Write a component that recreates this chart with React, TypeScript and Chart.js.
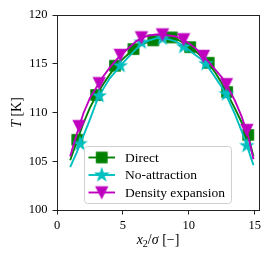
import React, { useEffect, useRef } from "react";
import { Chart, registerables } from "chart.js";

Chart.register(...registerables);

// ---------- data ----------
const lineX = [1.0, 1.5, 2.0, 2.5, 3.0, 3.5, 4.0, 4.5, 5.0, 5.5, 6.0, 6.5, 7.0, 7.5, 8.0, 8.5, 9.0, 9.5, 10.0, 10.5, 11.0, 11.5, 12.0, 12.5, 13.0, 13.5, 14.0, 14.5, 14.9];
const directLine = [105.1, 107.0, 108.9, 110.5, 111.8, 112.9, 113.9, 114.8, 115.5, 116.1, 116.6, 117.0, 117.3, 117.5, 117.6, 117.7, 117.6, 117.2, 116.8, 116.3, 115.7, 115.0, 114.1, 113.0, 111.7, 110.4, 109.0, 107.6, 105.5];
const noAttrLine = [104.4, 105.9, 107.6, 109.3, 111.1, 112.4, 113.5, 114.3, 115.1, 115.8, 116.5, 117.1, 117.4, 117.6, 117.6, 117.5, 117.3, 116.9, 116.4, 115.9, 115.4, 114.6, 113.6, 112.6, 111.3, 109.8, 108.1, 106.2, 104.6];
const densityLine = [105.5, 107.8, 109.9, 111.5, 112.6, 113.7, 114.6, 115.4, 116.1, 116.7, 117.3, 117.7, 117.9, 118.0, 118.0, 117.9, 117.8, 117.5, 117.1, 116.6, 115.9, 115.2, 114.4, 113.6, 112.5, 111.2, 109.6, 107.6, 105.2];

const directMarkX = [1.54, 2.97, 4.4, 5.8, 7.3, 8.7, 10.1, 11.5, 12.9, 14.5];
const directMarkY = [107.2, 111.8, 114.8, 116.5, 117.4, 117.7, 116.7, 115.1, 112.1, 107.7];
const noAttrMarkX = [1.74, 3.2, 4.8, 6.4, 8.0, 9.6, 11.3, 12.85, 14.4];
const noAttrMarkY = [106.8, 111.7, 114.8, 117.2, 117.6, 116.75, 115.0, 111.9, 106.6];
const densityMarkX = [1.67, 3.2, 4.8, 6.4, 8.0, 9.6, 11.1, 12.85, 14.4];
const densityMarkY = [108.6, 113.0, 115.9, 117.7, 118.0, 117.5, 115.8, 112.9, 108.2];

const seriesNames = ["Direct", "No-attraction", "Density expansion"];
const xTicks = [0, 5, 10, 15];
const yTicks = [100, 105, 110, 115, 120];

// ---------- styles ----------
const GREEN = "#008000";
const CYAN = "#00bfbf";
const MAGENTA = "#bf00bf";
const LW = 1.9;
const SERIF = "'Liberation Serif', 'Times New Roman', serif";

function makeMarker(kind: string, color: string): HTMLCanvasElement {
  const c = document.createElement("canvas");
  c.width = 16;
  c.height = 16;
  const ctx = c.getContext("2d")!;
  ctx.fillStyle = color;
  ctx.strokeStyle = color;
  ctx.lineWidth = 1.1;
  ctx.lineJoin = "miter";
  const cx = 8, cy = 8;
  ctx.beginPath();
  if (kind === "square") {
    ctx.rect(cx - 5.3, cy - 5.3, 10.6, 10.6);
  } else if (kind === "star") {
    const R = 6.5, r = R * 0.381966;
    for (let i = 0; i < 10; i++) {
      const a = -Math.PI / 2 + (i * Math.PI) / 5;
      const rr = i % 2 === 0 ? R : r;
      const px = cx + rr * Math.cos(a), py = cy + rr * Math.sin(a);
      if (i === 0) ctx.moveTo(px, py); else ctx.lineTo(px, py);
    }
    ctx.closePath();
  } else {
    const h = 5.8;
    ctx.moveTo(cx - h, cy - h);
    ctx.lineTo(cx + h, cy - h);
    ctx.lineTo(cx, cy + h);
    ctx.closePath();
  }
  ctx.fill();
  ctx.stroke();
  return c;
}

export default function App() {
  const ref = useRef<HTMLCanvasElement | null>(null);

  useEffect(() => {
    if (!ref.current) return;
    const markers = [makeMarker("square", GREEN), makeMarker("star", CYAN), makeMarker("tri", MAGENTA)];
    const colors = [GREEN, CYAN, MAGENTA];
    const lines = [directLine, noAttrLine, densityLine];
    const mx = [directMarkX, noAttrMarkX, densityMarkX];
    const my = [directMarkY, noAttrMarkY, densityMarkY];

    const datasets: any[] = [];
    for (let s = 0; s < 3; s++) {
      datasets.push({
        label: seriesNames[s] + " line",
        data: lineX.map((x, i) => ({ x, y: lines[s][i] })),
        showLine: true,
        borderColor: colors[s],
        backgroundColor: colors[s],
        borderWidth: LW,
        pointRadius: 0,
        tension: 0,
        order: 6 - 2 * s,
      });
      datasets.push({
        label: seriesNames[s],
        data: mx[s].map((x, i) => ({ x, y: my[s][i] })),
        showLine: false,
        pointStyle: markers[s],
        pointRadius: 6,
        order: 5 - 2 * s,
        clip: false,
      });
    }

    const overlay = {
      id: "overlay",
      afterDatasetsDraw(chart: any) {
        const ctx = chart.ctx;
        const a = chart.chartArea;
        ctx.save();
        // frame
        ctx.strokeStyle = "#222";
        ctx.lineWidth = 1;
        ctx.strokeRect(a.left + 0.5, a.top + 0.5, a.right - a.left, a.bottom - a.top);
        // legend
        const bx = 84.5, by = 146.5, bw = 147, bh = 57;
        ctx.beginPath();
        (ctx as any).roundRect(bx, by, bw, bh, 3);
        ctx.fillStyle = "rgba(255,255,255,0.8)";
        ctx.fill();
        ctx.strokeStyle = "#d0d0d0";
        ctx.lineWidth = 1;
        ctx.stroke();
        for (let s = 0; s < 3; s++) {
          const y = 157.5 + s * 17.5;
          ctx.strokeStyle = colors[s];
          ctx.lineWidth = LW;
          ctx.beginPath();
          ctx.moveTo(88.5, y);
          ctx.lineTo(115, y);
          ctx.stroke();
          const m = markers[s];
          ctx.drawImage(m, 101.7 - m.width / 2, y - m.height / 2);
          ctx.fillStyle = "#000";
          ctx.font = `13.5px ${SERIF}`;
          ctx.textAlign = "left";
          ctx.textBaseline = "alphabetic";
          ctx.fillText(seriesNames[s], 125, y + 4.4);
        }
        ctx.restore();
      },
      afterDraw(chart: any) {
        const ctx = chart.ctx;
        const a = chart.chartArea;
        ctx.save();
        ctx.fillStyle = "#000";
        ctx.textAlign = "left";
        ctx.textBaseline = "alphabetic";
        // x title: x_2/σ [−]
        const segs = [
          { t: "x", f: `italic 14px ${SERIF}`, dy: 0 },
          { t: "2", f: `10px ${SERIF}`, dy: 2.5 },
          { t: "/", f: `14px ${SERIF}`, dy: 0 },
          { t: "σ", f: `italic 14px ${SERIF}`, dy: 0 },
          { t: " [−]", f: `14px ${SERIF}`, dy: 0 },
        ];
        let total = 0;
        for (const sg of segs) { ctx.font = sg.f; total += ctx.measureText(sg.t).width; }
        let x = (a.left + a.right) / 2 - total / 2;
        for (const sg of segs) {
          ctx.font = sg.f;
          ctx.fillText(sg.t, x, 244 + sg.dy);
          x += ctx.measureText(sg.t).width;
        }
        // y title: T [K]
        const ysegs = [
          { t: "T", f: `italic 14px ${SERIF}` },
          { t: " [K]", f: `14px ${SERIF}` },
        ];
        let yt = 0;
        for (const sg of ysegs) { ctx.font = sg.f; yt += ctx.measureText(sg.t).width; }
        ctx.translate(21, (a.top + a.bottom) / 2);
        ctx.rotate(-Math.PI / 2);
        let p = -yt / 2;
        for (const sg of ysegs) {
          ctx.font = sg.f;
          ctx.fillText(sg.t, p, 0);
          p += ctx.measureText(sg.t).width;
        }
        ctx.restore();
      },
    };

    const tickFont = { family: SERIF, size: 12.5 };
    const chart = new Chart(ref.current, {
      type: "scatter",
      data: { datasets },
      options: {
        responsive: false,
        animation: false,
        devicePixelRatio: 1,
        layout: { padding: { left: 0, right: 15, top: 15, bottom: 0 } },
        plugins: { legend: { display: false }, tooltip: { enabled: false } },
        scales: {
          x: {
            type: "linear",
            min: 0,
            max: 15.32,
            afterBuildTicks: (s: any) => { s.ticks = xTicks.map((v) => ({ value: v })); },
            afterFit: (s: any) => { s.height = 49; },
            grid: { display: true, drawOnChartArea: false, drawTicks: true, tickLength: 4.5, color: "#222", tickColor: "#222" },
            border: { display: false },
            ticks: { font: tickFont, color: "#000", padding: 4, maxRotation: 0, autoSkip: false },
          },
          y: {
            type: "linear",
            min: 100,
            max: 120,
            afterBuildTicks: (s: any) => { s.ticks = yTicks.map((v) => ({ value: v })); },
            afterFit: (s: any) => { s.width = 57; },
            grid: { display: true, drawOnChartArea: false, drawTicks: true, tickLength: 4.5, color: "#222", tickColor: "#222" },
            border: { display: false },
            ticks: { font: tickFont, color: "#000", padding: 5, autoSkip: false },
          },
        },
      },
      plugins: [overlay],
    } as any);
    return () => chart.destroy();
  }, []);

  return (
    <div style={{ position: "fixed", left: 0, top: 0, width: 274, height: 259, background: "#fff" }}>
      <canvas ref={ref} width={274} height={259} style={{ display: "block" }} />
    </div>
  );
}
